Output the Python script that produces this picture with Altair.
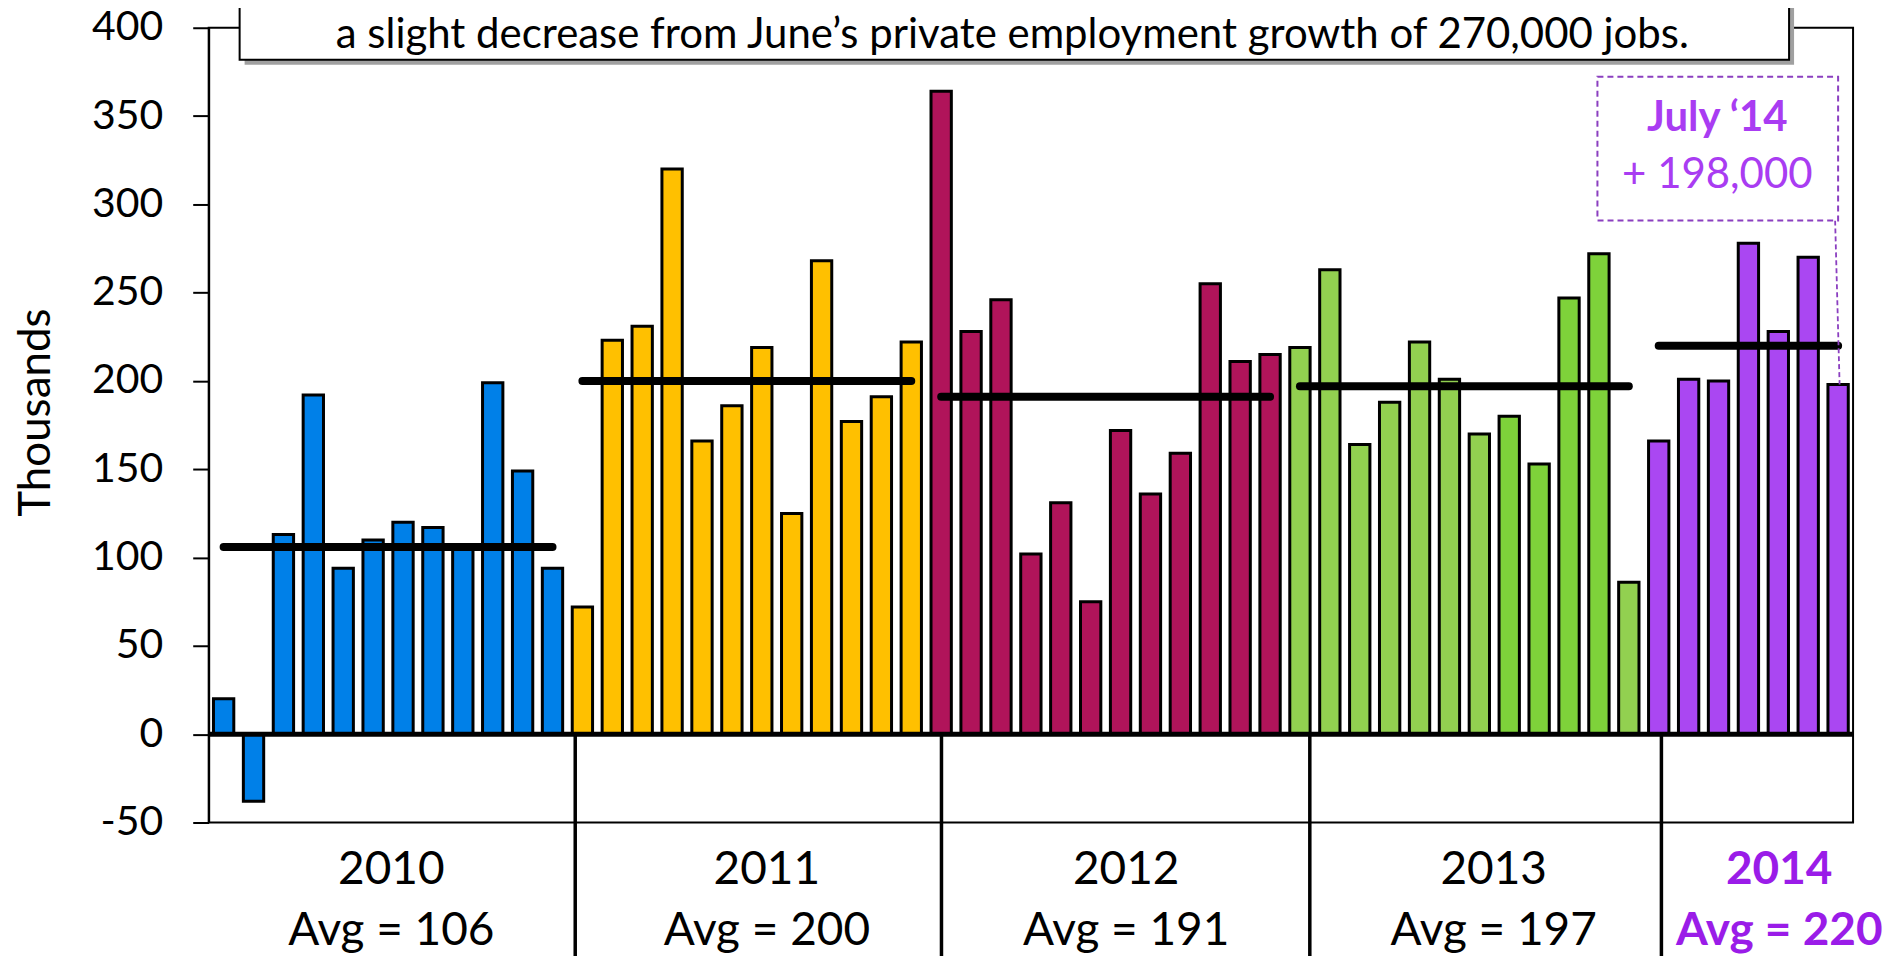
import altair as alt
import pandas as pd

# ---- data (thousands of jobs, monthly) ----
years = ["2010", "2011", "2012", "2013", "2014"]
v2010 = [20, -38, 113, 192, 94, 110, 120, 117, 107, 199, 149, 94]
v2011 = [72, 223, 231, 320, 166, 186, 219, 125, 268, 177, 191, 222]
v2012 = [364, 228, 246, 102, 131, 75, 172, 136, 159, 255, 211, 215]
v2013 = [219, 263, 164, 188, 222, 201, 170, 180, 153, 247, 272, 86]
v2014 = [166, 201, 200, 278, 228, 270, 198]
averages = [106, 200, 191, 197, 220]
shaded_2013_months = [8, 9, 10, 11]   # darker green bars in 2013
y_ticks = [-50, 0, 50, 100, 150, 200, 250, 300, 350, 400]

# category-axis annotations (in bar-index units)
separator_pos = [11.76, 24.01, 36.33, 48.09]
label_pos = [5.61, 18.17, 30.19, 42.48, 52.03]

title_line = "a slight decrease from June\u2019s private employment growth of 270,000 jobs."
callout_title = "July \u201814"
callout_value = "+ 198,000"

series = [v2010, v2011, v2012, v2013, v2014]

rows = []
avg_rows = []
i = 0
for y, vals, a in zip(years, series, averages):
    start = i
    for m, v in enumerate(vals, start=1):
        grp = y
        if y == "2013" and m in shaded_2013_months:
            grp = "2013b"
        rows.append({"idx": i, "value": v, "zero": 0, "grp": grp})
        i += 1
    avg_rows.append({"start": start, "end": i - 1, "avg": a})
df = pd.DataFrame(rows)
avg_df = pd.DataFrame(avg_rows)

xs = alt.Scale(domain=[-0.5, 54.5], nice=False, zero=False)
ys = alt.Scale(domain=[-50, 400], nice=False, zero=False)

color_scale = alt.Scale(
    domain=["2010", "2011", "2012", "2013", "2013b", "2014"],
    range=["#0080E8", "#FFC000", "#B0145A", "#92D050", "#7ED23A", "#AA47F2"],
)

FONT = "Lato"

yax = alt.Axis(
    values=y_ticks,
    domainColor="black",
    domainWidth=2,
    tickColor="black",
    tickWidth=2,
    tickSize=16,
    labelFont=FONT,
    labelFontSize=41,
    labelColor="black",
    labelPadding=30,
    labelExpr="datum.value < 0 ? '-' + abs(datum.value) : '' + datum.value",
    grid=False,
    titleFont=FONT,
    titleFontSize=44,
    titleFontWeight="normal",
    titleColor="black",
    titleAngle=270,
    titleX=-159,
    titleY=385,
    titleAlign="center",
    titleBaseline="alphabetic",
)


def X(field):
    return alt.X(field, scale=xs, axis=None)


def Y(field):
    return alt.Y(field, scale=ys, axis=yax, title="Thousands")


bars = (
    alt.Chart(df)
    .transform_calculate(x1="datum.idx - 0.34", x2="datum.idx + 0.34")
    .mark_rect(stroke="black", strokeWidth=3)
    .encode(
        x=X("x1:Q"),
        x2="x2:Q",
        y=Y("value:Q"),
        y2="zero:Q",
        color=alt.Color("grp:N", scale=color_scale, legend=None),
    )
)

avg_lines = (
    alt.Chart(avg_df)
    .mark_rule(color="black", strokeWidth=8, strokeCap="round")
    .encode(x=X("start:Q"), x2="end:Q", y=Y("avg:Q"))
)

zero_line = (
    alt.Chart(pd.DataFrame({"z": [0]}))
    .mark_rule(color="black", strokeWidth=5)
    .encode(y=Y("z:Q"))
)

sep_df = pd.DataFrame({"x": separator_pos, "y0": [0] * 4, "y1": [-230] * 4})
separators = (
    alt.Chart(sep_df)
    .mark_rule(color="black", strokeWidth=3.5)
    .encode(x=X("x:Q"), y=Y("y0:Q"), y2="y1:Q")
)

lab_df = pd.DataFrame(
    {
        "x": label_pos,
        "year": years,
        "avg": ["Avg = %d" % a for a in averages],
        "y_year": [-84.6] * 5,
        "y_avg": [-119.6] * 5,
        "current": [False, False, False, False, True],
    }
)


def label_layer(field, yfield, current):
    base = alt.Chart(lab_df).transform_filter(
        "datum.current" if current else "!datum.current"
    )
    return base.mark_text(
        font=FONT,
        fontSize=46,
        fontWeight="bold" if current else "normal",
        color="#9A1CE8" if current else "black",
        align="center",
        baseline="alphabetic",
    ).encode(x=X("x:Q"), y=Y(yfield + ":Q"), text=field + ":N")


labels = [
    label_layer("year", "y_year", False),
    label_layer("avg", "y_avg", False),
    label_layer("year", "y_year", True),
    label_layer("avg", "y_avg", True),
]

# ---- title box (top, clipped by the page) ----
box_df = pd.DataFrame({"x1": [0.535], "x2": [52.36], "y1": [440], "y2": [381.9]})
box_shadow = (
    alt.Chart(box_df)
    .mark_rect(fill="#A0A0A0", xOffset=5, yOffset=5, x2Offset=5, y2Offset=5)
    .encode(x=X("x1:Q"), x2="x2:Q", y=Y("y1:Q"), y2="y2:Q")
)
box = (
    alt.Chart(box_df)
    .mark_rect(fill="white", stroke="black", strokeWidth=2)
    .encode(x=X("x1:Q"), x2="x2:Q", y=Y("y1:Q"), y2="y2:Q")
)
title_df = pd.DataFrame({"x": [26.38], "y": [388.7], "t": [title_line]})
title_text = (
    alt.Chart(title_df)
    .mark_text(font=FONT, fontSize=42, color="black", align="center", baseline="alphabetic")
    .encode(x=X("x:Q"), y=Y("y:Q"), text="t:N")
)

# ---- July '14 callout ----
PURPLE_LINE = "#8B3FC0"
call_df = pd.DataFrame({"x1": [45.95], "x2": [54.0], "y1": [372.3], "y2": [290.9]})
call_box = (
    alt.Chart(call_df)
    .mark_rect(fill="white", stroke=PURPLE_LINE, strokeWidth=2, strokeDash=[6, 4])
    .encode(x=X("x1:Q"), x2="x2:Q", y=Y("y1:Q"), y2="y2:Q")
)
leader_df = pd.DataFrame({"x1": [53.9], "x2": [54.05], "y1": [290.9], "y2": [v2014[-1]]})
leader = (
    alt.Chart(leader_df)
    .mark_rule(color=PURPLE_LINE, strokeWidth=1.8, strokeDash=[5, 3])
    .encode(x=X("x1:Q"), x2="x2:Q", y=Y("y1:Q"), y2="y2:Q")
)
ctext_df = pd.DataFrame(
    {"x": [49.96, 49.96], "y": [341.8, 309.0], "t": [callout_title, callout_value], "b": [True, False]}
)
call_t1 = (
    alt.Chart(ctext_df)
    .transform_filter("datum.b")
    .mark_text(font=FONT, fontSize=42, fontWeight="bold", color="#A93CF2", align="center", baseline="alphabetic")
    .encode(x=X("x:Q"), y=Y("y:Q"), text="t:N")
)
call_t2 = (
    alt.Chart(ctext_df)
    .transform_filter("!datum.b")
    .mark_text(font=FONT, fontSize=42, color="#A93CF2", align="center", baseline="alphabetic")
    .encode(x=X("x:Q"), y=Y("y:Q"), text="t:N")
)

chart = (
    alt.layer(
        bars,
        avg_lines,
        zero_line,
        separators,
        *labels,
        leader,
        call_box,
        call_t1,
        call_t2,
        box_shadow,
        box,
        title_text,
    )
    .properties(
        width=1647,
        height=796,
        autosize=alt.AutoSizeParams(type="none"),
        padding={"left": 201, "top": 19, "right": 36, "bottom": 160},
        background="white",
    )
    .configure_view(stroke="black", strokeWidth=2)
)

chart.save("out.html", embed_options={"renderer": "svg", "actions": False})
